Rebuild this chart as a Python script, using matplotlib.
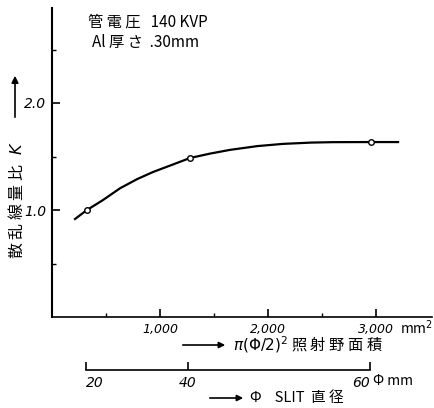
import matplotlib.pyplot as plt
import numpy as np

plt.rcParams['font.family'] = ['Noto Sans CJK JP', 'DejaVu Sans']

# curve: irradiated area (mm^2) vs scatter ratio K
area = [213, 324, 472, 630, 787, 935, 1093, 1278, 1463, 1648, 1900, 2139, 2400, 2600, 2954, 3204]
K = [0.916, 1.0, 1.093, 1.203, 1.288, 1.355, 1.415, 1.486, 1.527, 1.562, 1.597, 1.618, 1.630, 1.634, 1.635, 1.635]
# measured points (open circles)
pt_area = [324, 1278, 2954]
pt_K = [1.0, 1.486, 1.635]

# slit diameter scale, positions given in area units as drawn
phi_ticks = [315, 1259, 2944]
phi_labels = ['20', '40', '60']

W, H = 434, 408
fig = plt.figure(figsize=(W / 100, H / 100), dpi=100)

x0, y0, x1, y1 = 52, 317, 432, 8
ax = fig.add_axes([x0 / W, 1 - y0 / H, (x1 - x0) / W, (y0 - y1) / H])
ax.plot(area, K, color='black', lw=1.6, solid_joinstyle='round')
ax.plot(pt_area, pt_K, 'o', ms=4, mfc='white', mec='black', mew=1.0)
ax.set_xlim(0, (x1 - x0) / 0.108)
ax.set_ylim(0, (y0 - y1) / 107)
for s in ['top', 'right']:
    ax.spines[s].set_visible(False)
ax.spines['left'].set_linewidth(1.5)
ax.spines['bottom'].set_linewidth(1.2)

ax.set_xticks([1000, 2000, 3000])
ax.set_xticklabels(['1,000', '2,000', '3,000'], family='DejaVu Sans', style='italic', fontsize=9)
ax.set_xticks([500, 1500, 2500], minor=True)
ax.set_yticks([1.0, 2.0])
ax.set_yticklabels(['1.0', '2.0'], family='DejaVu Sans', style='italic', fontsize=10)
ax.set_yticks([0.5, 1.5, 2.5], minor=True)
ax.tick_params(which='major', direction='in', length=6, width=1.2, pad=4)
ax.tick_params(which='minor', direction='in', length=3, width=1.0)
ax.tick_params(axis='y', pad=4)

# second scale: slit diameter
ax2 = fig.add_axes([x0 / W, 1 - 370 / H, (x1 - x0) / W, 0.001])
ax2.set_xlim(ax.get_xlim())
for s in ['top', 'right', 'left']:
    ax2.spines[s].set_visible(False)
ax2.spines['bottom'].set_bounds(phi_ticks[0], phi_ticks[-1])
ax2.spines['bottom'].set_linewidth(1.2)
ax2.set_yticks([])
ax2.set_xticks(phi_ticks)
ax2.set_xticklabels(phi_labels, family='DejaVu Sans', style='italic', fontsize=10)
ax2.tick_params(axis='x', direction='in', length=6, width=1.2, pad=4)
labs = ax2.get_xticklabels()
labs[0].set_ha('left')
labs[2].set_ha('right')

# annotations
fig.text(88 / W, 1 - 22 / H, '管 電 圧   140 KVP', fontsize=11, va='center')
fig.text(92 / W, 1 - 42 / H, 'Al 厚 さ  .30mm', fontsize=11, va='center')
fig.text(17 / W, 1 - 200 / H, '散 乱 線 量 比   $K$', fontsize=11.5, rotation=90,
         ha='center', va='center')
ax.annotate('', xy=(15, H - 73), xytext=(15, H - 120), xycoords='figure pixels',
            textcoords='figure pixels',
            arrowprops=dict(arrowstyle='-|>', color='black', lw=1.2, mutation_scale=10))

fig.text(400 / W, 1 - 328 / H, 'mm$^2$', fontsize=10, va='center')
ax.annotate('', xy=(228, H - 345), xytext=(180, H - 345), xycoords='figure pixels',
            textcoords='figure pixels',
            arrowprops=dict(arrowstyle='-|>', color='black', lw=1.2, mutation_scale=9))
fig.text(233 / W, 1 - 345 / H, r'$\pi(\Phi/2)^2$ 照 射 野 面 積', fontsize=11, va='center')

fig.text(373 / W, 1 - 381 / H, 'Φ mm', fontsize=10, va='center')
ax.annotate('', xy=(246, H - 398), xytext=(207, H - 398), xycoords='figure pixels',
            textcoords='figure pixels',
            arrowprops=dict(arrowstyle='-|>', color='black', lw=1.2, mutation_scale=9))
fig.text(250 / W, 3 / H, 'Φ    SLIT  直 径', fontsize=10.5, va='bottom')

fig.savefig('out.png', dpi=100)
